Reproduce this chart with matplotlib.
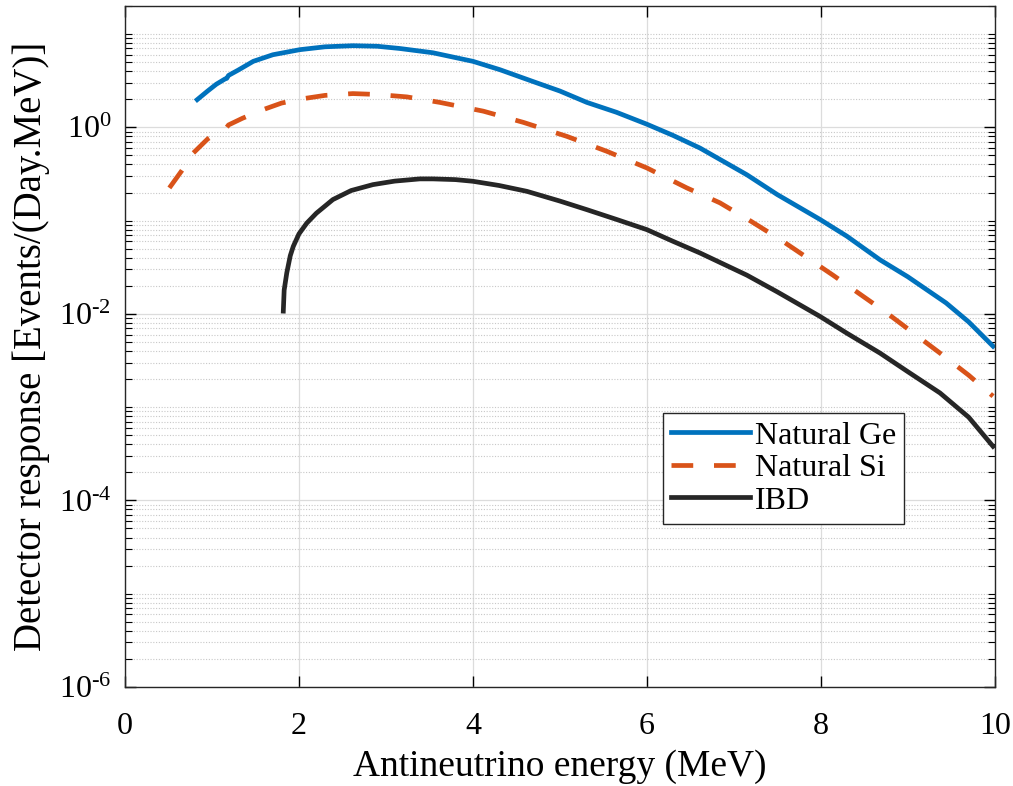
import numpy as np
import matplotlib
matplotlib.use("Agg")
import matplotlib.pyplot as plt
from matplotlib.ticker import LogLocator, NullFormatter

plt.rcParams['font.family'] = ['Liberation Serif', 'DejaVu Serif']
plt.rcParams['mathtext.fontset'] = 'custom'
plt.rcParams['mathtext.rm'] = 'Liberation Serif'
plt.rcParams['mathtext.default'] = 'regular'

# Natural Ge
ge_x = [0.83, 0.95, 1.05, 1.15, 1.17, 1.19, 1.3, 1.475, 1.7, 2.01, 2.3, 2.62, 2.9,
        3.16, 3.54, 4.0, 4.31, 4.69, 5.0, 5.31, 5.65, 6.0, 6.3, 6.61, 7.15, 7.5,
        7.99, 8.3, 8.68, 9.0, 9.44, 9.7, 9.98]
ge_y = [1.98, 2.45, 2.9, 3.3, 3.35, 3.6, 4.1, 5.1, 6.0, 6.8, 7.3, 7.5, 7.4,
        7.0, 6.3, 5.1, 4.15, 3.1, 2.45, 1.85, 1.45, 1.08, 0.82, 0.60, 0.31, 0.19,
        0.103, 0.068, 0.038, 0.025, 0.0131, 0.0082, 0.0045]

# Natural Si
si_x = [0.51, 0.65, 0.785, 0.95, 1.15, 1.17, 1.19, 1.35, 1.59, 1.8, 2.05, 2.3, 2.62, 2.9,
        3.24, 3.62, 4.12, 4.58, 5.08, 5.54, 6.0, 6.46, 6.84, 7.2, 7.53, 8.14, 8.76,
        9.37, 9.7, 9.98]
si_y = [0.224, 0.34, 0.53, 0.75, 0.98, 1.0, 1.06, 1.25, 1.55, 1.82, 2.03, 2.2, 2.3, 2.25,
        2.12, 1.85, 1.49, 1.13, 0.80, 0.553, 0.367, 0.224, 0.155, 0.098, 0.063, 0.026, 0.0102,
        0.0038, 0.0022, 0.00131]

# IBD
ibd_x = [1.82, 1.83, 1.86, 1.9, 1.935, 2.0, 2.09, 2.2, 2.39, 2.6, 2.85, 3.1, 3.39,
         3.54, 3.8, 4.0, 4.3, 4.62, 5.0, 5.31, 5.65, 6.0, 6.3, 6.61, 7.15, 7.5,
         7.99, 8.3, 8.68, 9.0, 9.37, 9.7, 9.98]
ibd_y = [0.0107, 0.018, 0.0275, 0.042, 0.053, 0.072, 0.094, 0.12, 0.168, 0.21, 0.243, 0.265, 0.28,
         0.28, 0.275, 0.264, 0.238, 0.206, 0.162, 0.131, 0.103, 0.080, 0.060, 0.045, 0.026, 0.0172,
         0.0094, 0.0062, 0.0038, 0.0024, 0.00142, 0.00078, 0.00038]

ytick_vals = [1e-6, 1e-4, 1e-2, 1e0]
ytick_txt = [r'$10^{\text{-}6}$', r'$10^{\text{-}4}$', r'$10^{\text{-}2}$', r'$10^{0}$']

fig = plt.figure(figsize=(10.13, 7.86), dpi=100)
ax = fig.add_axes([0.1234, 0.126, 0.8586, 0.8664])

ax.plot(ge_x, ge_y, color='#0072BD', lw=3.4, label='Natural Ge')
ax.plot(si_x, si_y, color='#D95319', lw=3.4, linestyle=(0, (4.6, 4.4)), label='Natural Si')
ax.plot(ibd_x, ibd_y, color='#262626', lw=3.4, label='IBD')

ax.set_yscale('log')
ax.set_xlim(0, 10)
ax.set_ylim(1e-6, 20)
ax.set_xticks([0, 2, 4, 6, 8, 10])
ax.set_yticks(ytick_vals)
ax.set_yticklabels(ytick_txt)
ax.yaxis.set_minor_locator(LogLocator(base=10, subs=np.arange(2, 11), numticks=30))
ax.yaxis.set_minor_formatter(NullFormatter())

ax.grid(True, which='major', color='#dcdcdc', linewidth=0.9, linestyle='-')
ax.grid(True, which='minor', axis='y', color='#c8c8c8', linewidth=0.8, linestyle=(0, (1, 1.5)))
ax.set_axisbelow(True)

ax.tick_params(which='both', direction='in', top=True, right=True)
ax.tick_params(which='major', length=8, width=1)
ax.tick_params(which='minor', length=5, width=0.8)
ax.tick_params(axis='x', labelsize=23, pad=18)
ax.tick_params(axis='y', labelsize=23, pad=10)
for s in ax.spines.values():
    s.set_linewidth(1.0)
    s.set_color('#262626')

ax.set_xlabel('Antineutrino energy (MeV)', fontsize=27, labelpad=6)
ax.set_ylabel('Detector response [Events/(Day.MeV)]', fontsize=28, labelpad=6)

leg = ax.legend(loc='upper left', bbox_to_anchor=(0.618, 0.402), fontsize=23,
                frameon=True, fancybox=False, edgecolor='#262626', framealpha=1,
                handlelength=2.5, handletextpad=0.15, borderpad=0.25, labelspacing=0.1,
                borderaxespad=0)
leg.get_frame().set_linewidth(1.0)

fig.savefig('out.png', dpi=100)
